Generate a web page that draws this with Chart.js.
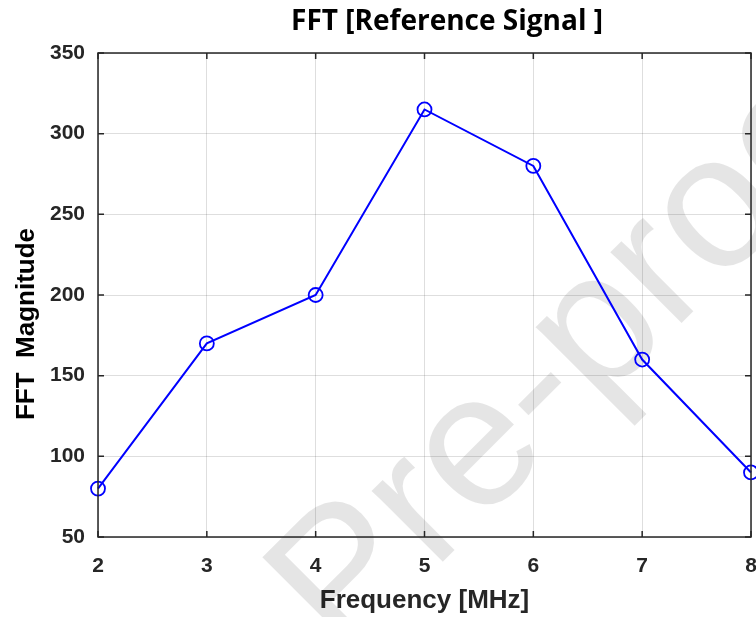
<!DOCTYPE html>
<html>
<head>
<meta charset="utf-8">
<script src="https://cdn.jsdelivr.net/npm/chart.js@4"></script>
<style>
  html, body { margin: 0; padding: 0; background: #fff; }
  #wrap { width: 756px; height: 617px; }
</style>
</head>
<body>
<div id="wrap"><canvas id="c"></canvas></div>
<script>
// data
const freqMHz = [2, 3, 4, 5, 6, 7, 8];
const fftMag = [80, 170, 200, 315, 280, 160, 90];
const xTicks = [2, 3, 4, 5, 6, 7, 8];
const yTicks = [50, 100, 150, 200, 250, 300, 350];

const titleText = 'FFT [Reference Signal ]';
const yTitle = 'FFT  Magnitude';
const watermark = 'Pre-proof';
const axisColor = '#262626';
const sans = '"Liberation Sans", Arial, sans-serif';

// title and y label drawn by hand: both sit off the plot centre in the original
const textPlugin = {
  id: 'matlabText',
  afterDraw(chart) {
    const ctx = chart.ctx;
    ctx.save();
    ctx.fillStyle = '#000';
    ctx.font = 'bold 28px "Open Sans", "Noto Sans", sans-serif';
    ctx.textAlign = 'center';
    ctx.textBaseline = 'middle';
    ctx.fillText(titleText, 447, 22);

    ctx.translate(27, 324);
    ctx.rotate(-Math.PI / 2);
    ctx.font = 'bold 26px ' + sans;
    ctx.fillText(yTitle, 0, 0);
    ctx.restore();
  }
};

// big grey watermark under the line, anchored on the centre of the hyphen
const watermarkPlugin = {
  id: 'watermark',
  beforeDatasetsDraw(chart) {
    const ctx = chart.ctx;
    const size = 190;
    ctx.save();
    ctx.font = size + 'px ' + sans;
    ctx.fillStyle = 'rgba(0,0,0,0.1)';
    ctx.translate(539, 393);
    ctx.rotate(-45 * Math.PI / 180);
    const wPre = ctx.measureText('Pre').width;
    const wDash = ctx.measureText('-').width;
    ctx.textBaseline = 'alphabetic';
    ctx.fillText(watermark, -wPre - wDash / 2, size * 0.27);
    ctx.restore();
  }
};

// box round the axes plus inward tick marks
const boxPlugin = {
  id: 'matlabBox',
  afterDatasetsDraw(chart) {
    const { ctx, chartArea: a, scales } = chart;
    ctx.save();
    ctx.strokeStyle = axisColor;
    ctx.lineWidth = 1.5;
    ctx.strokeRect(a.left, a.top, a.right - a.left, a.bottom - a.top);
    const t = 6;
    ctx.beginPath();
    xTicks.forEach(v => {
      const px = scales.x.getPixelForValue(v);
      ctx.moveTo(px, a.bottom); ctx.lineTo(px, a.bottom - t);
      ctx.moveTo(px, a.top); ctx.lineTo(px, a.top + t);
    });
    yTicks.forEach(v => {
      const py = scales.y.getPixelForValue(v);
      ctx.moveTo(a.left, py); ctx.lineTo(a.left + t, py);
      ctx.moveTo(a.right, py); ctx.lineTo(a.right - t, py);
    });
    ctx.stroke();
    ctx.restore();
  }
};

const tickFont = { family: sans, size: 21, weight: 'bold' };
const labelFont = { family: sans, size: 26, weight: 'bold' };

new Chart(document.getElementById('c'), {
  type: 'line',
  data: {
    datasets: [{
      label: 'FFT',
      data: freqMHz.map((f, i) => ({ x: f, y: fftMag[i] })),
      borderColor: '#0000ff',
      borderWidth: 2,
      backgroundColor: 'rgba(0,0,0,0)',
      pointStyle: 'circle',
      pointRadius: 7,
      pointBorderWidth: 1.8,
      pointBorderColor: '#0000ff',
      pointBackgroundColor: 'rgba(0,0,0,0)',
      tension: 0,
      clip: false
    }]
  },
  options: {
    responsive: true,
    maintainAspectRatio: false,
    animation: false,
    layout: { autoPadding: false, padding: { top: 53, right: 5, left: 0, bottom: 0 } },
    plugins: {
      legend: { display: false },
      title: { display: false },
      tooltip: { enabled: false }
    },
    scales: {
      x: {
        type: 'linear',
        min: 2,
        max: 8,
        afterBuildTicks: s => { s.ticks = xTicks.map(v => ({ value: v })); },
        afterFit: s => { s.height = 80; s.paddingLeft = 0; s.paddingRight = 0; },
        grid: { color: 'rgba(0,0,0,0.13)', drawTicks: false },
        border: { display: false },
        ticks: { color: axisColor, font: tickFont, padding: 17 },
        title: {
          display: true,
          text: 'Frequency [MHz]',
          color: axisColor,
          font: labelFont,
          padding: { top: 0, bottom: 1 }
        }
      },
      y: {
        min: 50,
        max: 350,
        afterBuildTicks: s => { s.ticks = yTicks.map(v => ({ value: v })); },
        afterFit: s => { s.width = 98; s.paddingTop = 0; s.paddingBottom = 0; },
        grid: { color: 'rgba(0,0,0,0.13)', drawTicks: false },
        border: { display: false },
        ticks: { color: axisColor, font: tickFont, padding: 13 },
        title: { display: false }
      }
    }
  },
  plugins: [watermarkPlugin, boxPlugin, textPlugin]
});
</script>
</body>
</html>
